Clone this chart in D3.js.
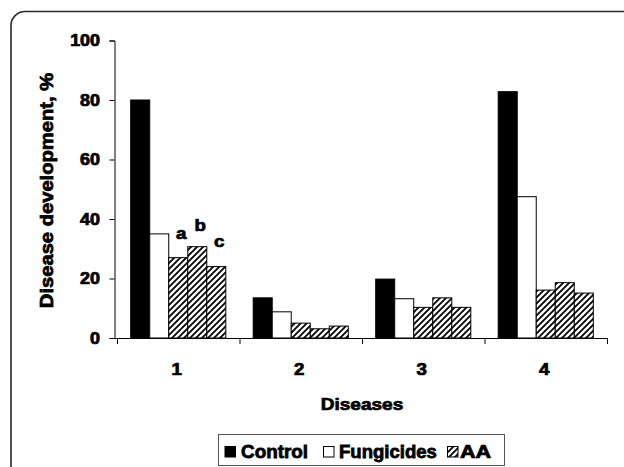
<!DOCTYPE html>
<html>
<head>
<meta charset="utf-8">
<script src="https://cdn.jsdelivr.net/npm/d3@7/dist/d3.min.js"></script>
<style>
  html, body { margin: 0; padding: 0; background: #fff; }
  svg { display: block; }
  text { font-family: "Liberation Sans", Arial, sans-serif; font-weight: bold; fill: #000;
         stroke: #000; stroke-width: 0.75px; }
</style>
</head>
<body>
<svg id="chart" width="624" height="467"></svg>
<script>
// ---- data ----
const categories = ["1", "2", "3", "4"];
const seriesNames = ["Control", "Fungicides", "AA"];
const control    = [80, 13.5, 19.8, 82.8];
const fungicides = [35, 8.8, 13.2, 47.5];
const aaA        = [27, 5.0, 10.3, 16.1];
const aaB        = [30.7, 3.1, 13.5, 18.6];
const aaC        = [24, 4.0, 10.3, 15.1];
const barLabels  = ["a", "b", "c"];          // on group 1 AA bars
const barLabelY  = [33.4, 36, 30.6];         // label baseline, in % units
const yTicks     = [0, 20, 40, 60, 80, 100];
const yTitle = "Disease development, %";
const xTitle = "Diseases";

const bars = [
  { key: "Control", vals: control, fill: "#000" },
  { key: "Fungicides", vals: fungicides, fill: "#fff" },
  { key: "AA", vals: aaA, fill: "url(#hatch)" },
  { key: "AA", vals: aaB, fill: "url(#hatch)" },
  { key: "AA", vals: aaC, fill: "url(#hatch)" }
];

const svg = d3.select("#chart");
// horizontally stretch glyphs (the source figure is wider than the font)
function hstretch(sel, f) {
  sel.each(function () {
    const t = d3.select(this);
    const x = +(t.attr("x") || 0);
    t.attr("x", x / f).attr("transform", "scale(" + f + ",1)");
  });
}

// hatch pattern
const defs = svg.append("defs");
const pat = defs.append("pattern").attr("id", "hatch")
  .attr("patternUnits", "userSpaceOnUse").attr("width", 6).attr("height", 6);
pat.append("rect").attr("width", 6).attr("height", 6).attr("fill", "#fff");
pat.append("path").attr("d", "M-1,1 l2,-2 M0,6 l6,-6 M5,7 l2,-2")
  .attr("stroke", "#000").attr("stroke-width", 1.8);

// outer frame
svg.append("rect").attr("x", 11).attr("y", 11.5).attr("width", 700).attr("height", 600)
  .attr("rx", 14).attr("fill", "none").attr("stroke", "#2a2a2a").attr("stroke-width", 1.6);

// scales
const x0 = d3.scaleBand().domain(categories).range([117, 607]).paddingInner(0).paddingOuter(0);
const x1 = d3.scaleBand().domain(d3.range(bars.length)).range([0, x0.bandwidth()]).paddingInner(0).paddingOuter(0.72);
const y = d3.scaleLinear().domain([0, 100]).range([338, 40.5]);

// bars
const g = svg.append("g");
bars.forEach((s, si) => {
  g.selectAll(null).data(categories).enter().append("rect")
    .attr("x", (c) => x0(c) + x1(si))
    .attr("y", (c, i) => y(s.vals[i]))
    .attr("width", x1.bandwidth())
    .attr("height", (c, i) => y(0) - y(s.vals[i]))
    .attr("fill", s.fill)
    .attr("stroke", "#000").attr("stroke-width", 1);
});

// a, b, c labels
const lab = svg.append("g").selectAll("text").data(barLabels).enter().append("text")
  .attr("x", (d, i) => x0(categories[0]) + x1(i + 2) + x1.bandwidth() / 2 + 3)
  .attr("y", (d, i) => y(barLabelY[i]))
  .attr("text-anchor", "middle").attr("font-size", 17).text((d) => d);
hstretch(lab, 1.1);

// y axis
const yAxis = svg.append("g").attr("transform", "translate(114.5,0)")
  .call(d3.axisLeft(y).tickValues(yTicks).tickSize(5).tickPadding(9.5));
yAxis.select(".domain").attr("stroke", "#000");
yAxis.selectAll(".tick line").attr("stroke", "#000");
yAxis.selectAll("text").attr("font-size", 16);
hstretch(yAxis.selectAll("text"), 1.12);

// x axis: boundary ticks
const xb = d3.scalePoint().domain(d3.range(categories.length + 1)).range([117, 607]);
const xAxis = svg.append("g").attr("transform", "translate(0,338)")
  .call(d3.axisBottom(xb).tickSize(6).tickSizeOuter(0).tickFormat(""));
xAxis.select(".domain").attr("d", "M114.5,0.5H607.5").attr("stroke", "#000");
xAxis.selectAll(".tick line").attr("stroke", "#000");

// category labels
const xl = svg.append("g").attr("transform", "translate(-1.5,338)")
  .call(d3.axisBottom(x0).tickSize(0).tickPadding(25));
xl.select(".domain").remove();
xl.selectAll("text").attr("font-size", 17);
hstretch(xl.selectAll("text"), 1.1);

// titles
svg.append("text").attr("transform", "translate(52.5,190.5) rotate(-90) scale(1.12,1)")
  .attr("text-anchor", "middle").attr("font-size", 18).text(yTitle);

const xt = svg.append("text").attr("x", 362).attr("y", 410)
  .attr("text-anchor", "middle").attr("font-size", 17).text(xTitle);
hstretch(xt, 1.12);

// legend
const leg = svg.append("g");
leg.append("rect").attr("x", 218.5).attr("y", 434.5).attr("width", 286).attr("height", 31)
  .attr("fill", "#fff").attr("stroke", "#555").attr("stroke-width", 1);
const legItems = [
  { name: seriesNames[0], fill: "#000", sx: 225, tx: 241, f: 1.05 },
  { name: seriesNames[1], fill: "#fff", sx: 323.5, tx: 339, f: 1.03 },
  { name: seriesNames[2], fill: "url(#hatch)", sx: 447.5, tx: 460, f: 1.2 }
];
legItems.forEach((it) => {
  leg.append("rect").attr("x", it.sx).attr("y", 446.5).attr("width", 10.5).attr("height", 10.5)
    .attr("fill", it.fill).attr("stroke", "#000").attr("stroke-width", 1);
  const t = leg.append("text").attr("x", it.tx).attr("y", 458.5).attr("font-size", 18).text(it.name);
  hstretch(t, it.f);
});
</script>
</body>
</html>
